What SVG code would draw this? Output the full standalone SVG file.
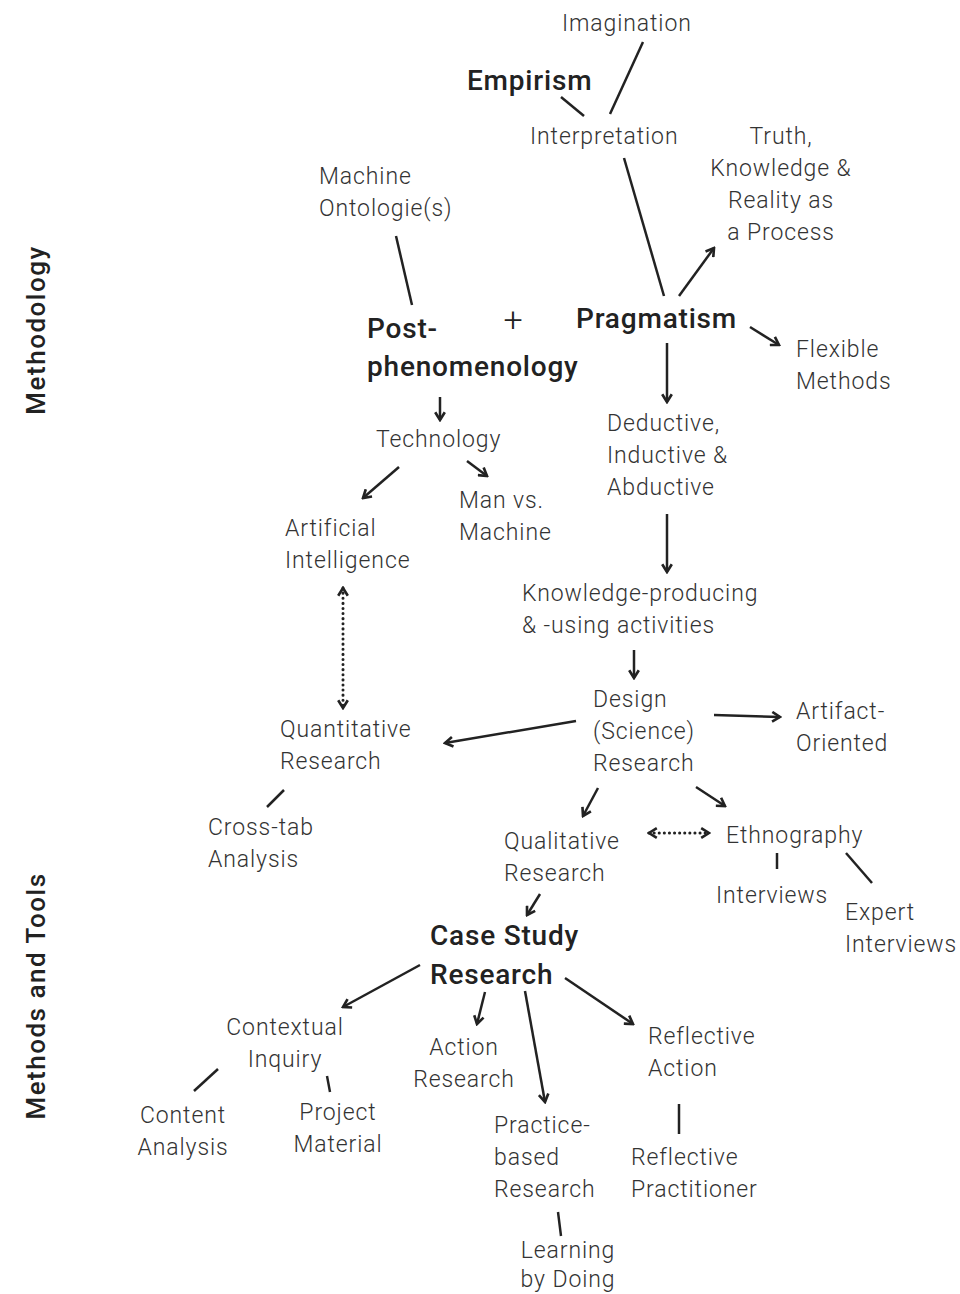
<svg xmlns="http://www.w3.org/2000/svg" width="960" height="1294" viewBox="0 0 960 1294">
<defs>
<style>
text{font-family:Roboto,"Liberation Sans",sans-serif;fill:#333;}
.t{font-size:23px;font-weight:300;letter-spacing:0.9px;}
.b{font-size:28px;font-weight:500;fill:#222;letter-spacing:0.8px;}
.s{font-size:26px;font-weight:500;fill:#222;letter-spacing:1.5px;}
.p{font-size:34px;font-weight:300;fill:#222;}
.c line{stroke:#222;stroke-width:2.5;fill:none;}
.a{marker-end:url(#ah);}
.d{stroke-dasharray:0.1 5;stroke-linecap:round;stroke-width:3 !important;marker-start:url(#ah2);marker-end:url(#ah);}
</style>
<marker id="ah" viewBox="0 0 10 10" refX="8.5" refY="5" markerWidth="12" markerHeight="12" orient="auto" markerUnits="userSpaceOnUse">
<path d="M2,1 L8.5,5 L2,9" fill="none" stroke="#222" stroke-width="2.2"/>
</marker>
<marker id="ah2" viewBox="0 0 10 10" refX="1.5" refY="5" markerWidth="12" markerHeight="12" orient="auto" markerUnits="userSpaceOnUse">
<path d="M8,1 L1.5,5 L8,9" fill="none" stroke="#222" stroke-width="2.2"/>
</marker>
</defs>
<rect width="960" height="1294" fill="#fff"/>
<g id="connectors" class="c">
<line x1="643" y1="42" x2="610" y2="114"/>
<line x1="561" y1="97" x2="584" y2="116"/>
<line x1="624" y1="158" x2="664" y2="296"/>
<line class="a" x1="679" y1="296" x2="714" y2="248"/>
<line class="a" x1="750" y1="327" x2="779" y2="345"/>
<line x1="396" y1="236" x2="412" y2="305"/>
<line class="a" x1="667" y1="343" x2="667" y2="402"/>
<line class="a" x1="440" y1="397" x2="440" y2="420"/>
<line class="a" x1="399" y1="467" x2="363" y2="498"/>
<line class="a" x1="467" y1="461" x2="487" y2="476"/>
<line class="a" x1="667" y1="514" x2="667" y2="572"/>
<line class="a" x1="634" y1="650" x2="634" y2="678"/>
<line class="d" x1="343" y1="588" x2="343" y2="708"/>
<line class="a" x1="576" y1="721" x2="445" y2="743"/>
<line class="a" x1="714" y1="715" x2="780" y2="717"/>
<line class="a" x1="598" y1="788" x2="583" y2="816"/>
<line class="a" x1="696" y1="787" x2="725" y2="806"/>
<line class="d" x1="649" y1="833" x2="709" y2="833"/>
<line x1="284" y1="790" x2="267" y2="807"/>
<line x1="777" y1="853" x2="777" y2="869"/>
<line x1="846" y1="853" x2="872" y2="883"/>
<line class="a" x1="540" y1="894" x2="527" y2="915"/>
<line class="a" x1="420" y1="965" x2="343" y2="1007"/>
<line class="a" x1="485" y1="992" x2="477" y2="1024"/>
<line class="a" x1="525" y1="991" x2="545" y2="1102"/>
<line class="a" x1="565" y1="978" x2="633" y2="1024"/>
<line x1="218" y1="1069" x2="194" y2="1091"/>
<line x1="327" y1="1076" x2="330" y2="1092"/>
<line x1="679" y1="1104" x2="679" y2="1134"/>
<line x1="558" y1="1212" x2="561" y2="1236"/>
</g>
<g id="side-methodology"><text class="s" transform="translate(45,330) rotate(-90)" text-anchor="middle">Methodology</text></g>
<g id="side-methods"><text class="s" transform="translate(45,996) rotate(-90)" text-anchor="middle">Methods and Tools</text></g>
<g id="imagination"><text class="t" x="562" y="31">Imagination</text></g>
<g id="empirism"><text class="b" x="467" y="90">Empirism</text></g>
<g id="interpretation"><text class="t" x="530" y="144">Interpretation</text></g>
<g id="truth"><text class="t" text-anchor="middle" x="781" y="144">Truth,</text><text class="t" text-anchor="middle" x="781" y="176">Knowledge &amp;</text><text class="t" text-anchor="middle" x="781" y="208">Reality as</text><text class="t" text-anchor="middle" x="781" y="240">a Process</text></g>
<g id="machine-ontologies"><text class="t" x="319" y="184">Machine</text><text class="t" x="319" y="216">Ontologie(s)</text></g>
<g id="postphenomenology"><text class="b" x="367" y="338">Post-</text><text class="b" x="367" y="376">phenomenology</text></g>
<g id="plus"><text class="p" x="513" y="331" text-anchor="middle">+</text></g>
<g id="pragmatism"><text class="b" x="576" y="328">Pragmatism</text></g>
<g id="flexible"><text class="t" x="796" y="357">Flexible</text><text class="t" x="796" y="389">Methods</text></g>
<g id="technology"><text class="t" x="376" y="447">Technology</text></g>
<g id="deductive"><text class="t" x="607" y="431">Deductive,</text><text class="t" x="607" y="463">Inductive &amp;</text><text class="t" x="607" y="495">Abductive</text></g>
<g id="man-vs-machine"><text class="t" x="459" y="508">Man vs.</text><text class="t" x="459" y="540">Machine</text></g>
<g id="ai"><text class="t" x="285" y="536">Artificial</text><text class="t" x="285" y="568">Intelligence</text></g>
<g id="knowledge"><text class="t" x="522" y="601">Knowledge-producing</text><text class="t" x="522" y="633">&amp; -using activities</text></g>
<g id="design"><text class="t" x="593" y="707">Design</text><text class="t" x="593" y="739">(Science)</text><text class="t" x="593" y="771">Research</text></g>
<g id="artifact"><text class="t" x="796" y="719">Artifact-</text><text class="t" x="796" y="751">Oriented</text></g>
<g id="quantitative"><text class="t" x="280" y="737">Quantitative</text><text class="t" x="280" y="769">Research</text></g>
<g id="crosstab"><text class="t" x="208" y="835">Cross-tab</text><text class="t" x="208" y="867">Analysis</text></g>
<g id="qualitative"><text class="t" x="504" y="849">Qualitative</text><text class="t" x="504" y="881">Research</text></g>
<g id="ethnography"><text class="t" x="726" y="843">Ethnography</text></g>
<g id="interviews"><text class="t" x="716" y="903">Interviews</text></g>
<g id="expert"><text class="t" x="845" y="920">Expert</text><text class="t" x="845" y="952">Interviews</text></g>
<g id="casestudy"><text class="b" x="430" y="945">Case Study</text><text class="b" x="430" y="984">Research</text></g>
<g id="contextual"><text class="t" x="285" y="1035" text-anchor="middle">Contextual</text><text class="t" x="285" y="1067" text-anchor="middle">Inquiry</text></g>
<g id="action"><text class="t" x="464" y="1055" text-anchor="middle">Action</text><text class="t" x="464" y="1087" text-anchor="middle">Research</text></g>
<g id="reflective-action"><text class="t" x="648" y="1044">Reflective</text><text class="t" x="648" y="1076">Action</text></g>
<g id="content"><text class="t" x="183" y="1123" text-anchor="middle">Content</text><text class="t" x="183" y="1155" text-anchor="middle">Analysis</text></g>
<g id="project"><text class="t" x="338" y="1120" text-anchor="middle">Project</text><text class="t" x="338" y="1152" text-anchor="middle">Material</text></g>
<g id="practice"><text class="t" x="494" y="1133">Practice-</text><text class="t" x="494" y="1165">based</text><text class="t" x="494" y="1197">Research</text></g>
<g id="reflective-practitioner"><text class="t" x="631" y="1165">Reflective</text><text class="t" x="631" y="1197">Practitioner</text></g>
<g id="learning"><text class="t" x="568" y="1258" text-anchor="middle">Learning</text><text class="t" x="568" y="1287" text-anchor="middle">by Doing</text></g>
</svg>
